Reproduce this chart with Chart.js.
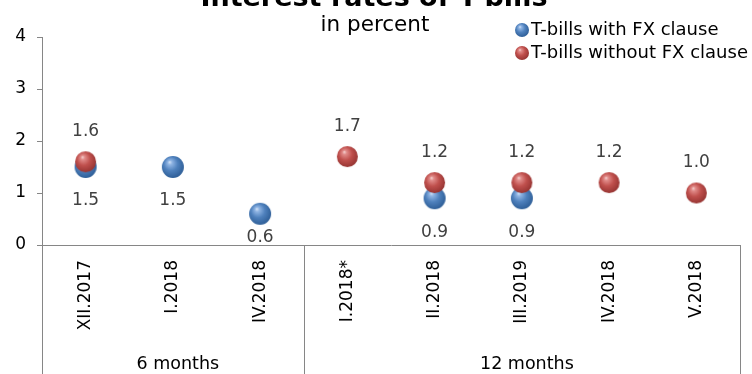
<!DOCTYPE html>
<html>
<head>
<meta charset="utf-8">
<title>Interest rates of T-bills</title>
<script src="https://cdn.jsdelivr.net/npm/chart.js@4/dist/chart.umd.min.js"></script>
<style>
  html, body { margin: 0; padding: 0; background: #ffffff; }
  canvas { display: block; }
</style>
</head>
<body>
<canvas id="chart" width="752" height="374"></canvas>
<script>
// Auction months, grouped by maturity
const categories = ['XII.2017', 'I.2018', 'IV.2018', 'I.2018*', 'II.2018', 'III.2019', 'IV.2018', 'V.2018'];
const groupLabels = ['6 months', '12 months'];
const groupSizes = [3, 5];

// Interest rates, in percent
const withFxClause = [1.5, 1.5, 0.6, null, 0.9, 0.9, null, null];
const withoutFxClause = [1.6, null, null, 1.7, 1.2, 1.2, 1.2, 1.0];

// Value axis ticks
const yTicks = [0, 1, 2, 3, 4];

const seriesNames = ['T-bills with FX clause', 'T-bills without FX clause'];
const FONT = "Verdana, 'DejaVu Sans', sans-serif";
const AXIS_GREY = '#868686';

const palette = {
  blue: { hi: '#d6e5f8', light: '#8fb4e3', base: '#4f81bd', dark: '#2f5f98' },
  red:  { hi: '#f6d4d3', light: '#e08a88', base: '#c0504d', dark: '#973533' }
};

// Shaded ball: highlight up-left, darker rim toward the lower right
function drawSphere(ctx, x, y, r, c) {
  const g = ctx.createRadialGradient(x - r * 0.3, y - r * 0.45, 0, x - r * 0.1, y - r * 0.15, r * 1.15);
  g.addColorStop(0, c.hi);
  g.addColorStop(0.18, c.light);
  g.addColorStop(0.55, c.base);
  g.addColorStop(1, c.dark);
  ctx.fillStyle = g;
  ctx.beginPath();
  ctx.arc(x, y, r, 0, Math.PI * 2);
  ctx.fill();
}

function sphereImage(c, r) {
  const cv = document.createElement('canvas');
  const s = Math.ceil(r * 2 + 2);
  cv.width = s; cv.height = s;
  drawSphere(cv.getContext('2d'), s / 2, s / 2, r, c);
  return cv;
}

// Titles, legend, value labels and the grouped category frame
const decorations = {
  id: 'decorations',
  afterDraw(chart) {
    const ctx = chart.ctx;
    const area = chart.chartArea;
    const x = chart.scales.x;
    ctx.save();

    // title and subtitle
    ctx.fillStyle = '#000000';
    ctx.textAlign = 'center';
    ctx.textBaseline = 'alphabetic';
    ctx.font = 'bold 27px ' + FONT;
    ctx.fillText('Interest rates of T-bills', 374, 6);
    ctx.textBaseline = 'middle';
    ctx.font = '21.5px ' + FONT;
    ctx.fillText('in percent', 375, 25);

    // legend
    ctx.textAlign = 'left';
    ctx.font = '18px ' + FONT;
    [[palette.blue, 30], [palette.red, 53]].forEach(([c, ly], i) => {
      drawSphere(ctx, 522, ly, 7, c);
      ctx.fillStyle = '#000000';
      ctx.fillText(seriesNames[i], 531, ly);
    });

    // value labels: red above its point, blue below
    ctx.textAlign = 'center';
    ctx.textBaseline = 'middle';
    ctx.font = '17px ' + FONT;
    ctx.fillStyle = '#404040';
    chart.data.datasets.forEach((ds, di) => {
      const meta = chart.getDatasetMeta(di);
      meta.data.forEach((pt, i) => {
        const v = ds.data[i];
        if (v === null || v === undefined) return;
        let ly;
        if (ds.labelSide === 'above') {
          ly = pt.y - 30;
        } else {
          ly = Math.min(pt.y + 34, area.bottom - 7);
        }
        ctx.fillText(v.toFixed(1), pt.x, ly);
      });
    });

    // group frame below the category axis
    const bottom = chart.height;
    const bounds = [area.left];
    let idx = 0;
    groupSizes.forEach((n) => {
      idx += n;
      const edge = idx >= categories.length
        ? area.right
        : (x.getPixelForValue(idx - 1) + x.getPixelForValue(idx)) / 2;
      bounds.push(edge);
    });
    ctx.strokeStyle = AXIS_GREY;
    ctx.lineWidth = 1;
    bounds.forEach((bx) => {
      const px = Math.round(bx) + 0.5;
      ctx.beginPath();
      ctx.moveTo(px, area.bottom);
      ctx.lineTo(px, bottom);
      ctx.stroke();
    });

    ctx.fillStyle = '#000000';
    ctx.font = '17.5px ' + FONT;
    groupLabels.forEach((g, gi) => {
      const cx = (bounds[gi] + bounds[gi + 1]) / 2 + 5;
      ctx.fillText(g, cx, 364);
    });

    ctx.restore();
  }
};

const ctx = document.getElementById('chart').getContext('2d');
new Chart(ctx, {
  type: 'line',
  data: {
    labels: categories,
    datasets: [
      {
        label: seriesNames[0],
        data: withFxClause,
        showLine: false,
        pointStyle: sphereImage(palette.blue, 11),
        pointRadius: 11,
        pointHoverRadius: 11,
        labelSide: 'below',
        order: 2
      },
      {
        label: seriesNames[1],
        data: withoutFxClause,
        showLine: false,
        pointStyle: sphereImage(palette.red, 10.5),
        pointRadius: 11,
        pointHoverRadius: 11,
        labelSide: 'above',
        order: 1
      }
    ]
  },
  options: {
    responsive: false,
    devicePixelRatio: 1,
    animation: false,
    events: [],
    layout: { padding: { top: 37, right: 4, left: 0, bottom: 0 } },
    plugins: {
      legend: { display: false },
      title: { display: false },
      tooltip: { enabled: false }
    },
    scales: {
      x: {
        type: 'category',
        offset: true,
        grid: { display: false, drawTicks: false },
        border: { display: true, color: AXIS_GREY, width: 1 },
        ticks: {
          autoSkip: false,
          maxRotation: 90,
          minRotation: 90,
          padding: 15,
          color: '#000000',
          font: { family: FONT, size: 17 }
        },
        afterFit(scale) { scale.height = 129; }
      },
      y: {
        min: yTicks[0],
        max: yTicks[yTicks.length - 1],
        afterBuildTicks(scale) { scale.ticks = yTicks.map(v => ({ value: v })); },
        grid: {
          drawOnChartArea: false,
          drawTicks: true,
          tickLength: 5,
          color: AXIS_GREY
        },
        border: { display: true, color: AXIS_GREY, width: 1 },
        ticks: {
          padding: 11,
          color: '#000000',
          font: { family: FONT, size: 17 }
        },
        afterFit(scale) { scale.width = 42; }
      }
    }
  },
  plugins: [decorations]
});
</script>
</body>
</html>
